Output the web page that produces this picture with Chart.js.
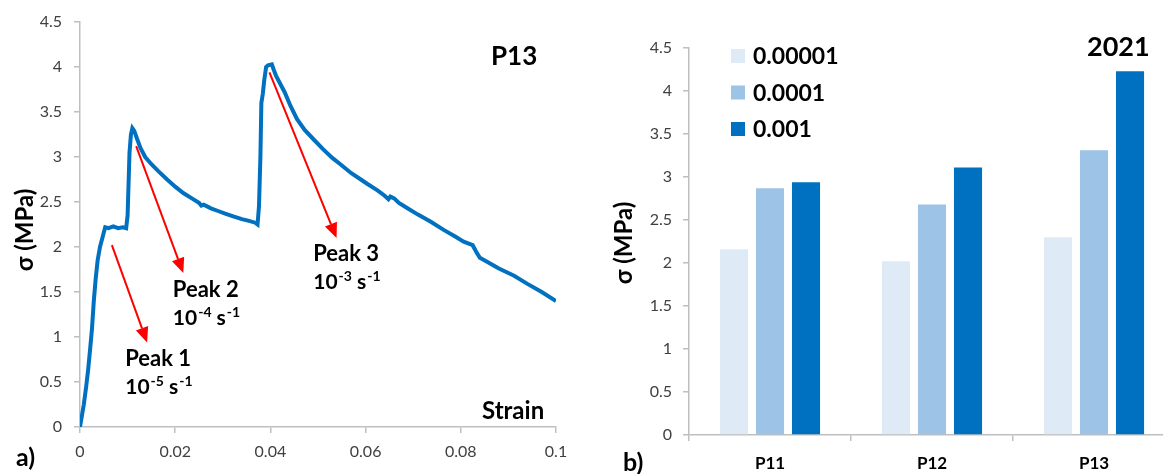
<!DOCTYPE html>
<html>
<head>
<meta charset="utf-8">
<script src="https://cdn.jsdelivr.net/npm/chart.js@4.4.1/dist/chart.umd.min.js"></script>
<style>
  html, body { margin: 0; padding: 0; background: #fff; overflow: hidden; }
  #wrap { position: relative; width: 1163px; height: 474px; overflow: hidden; }
  #leftChart { position: absolute; left: 0; top: 0; }
  #rightChart { position: absolute; left: 580px; top: 0; }
</style>
</head>
<body>
<div id="wrap">
  <canvas id="leftChart" width="580" height="474"></canvas>
  <canvas id="rightChart" width="600" height="474"></canvas>
</div>
<script>
// a) stress-strain curve of P13
var strain = [0, 0.0008, 0.0013, 0.0017, 0.0021, 0.0025, 0.0029, 0.0033, 0.0037, 0.0042, 0.0047, 0.0050, 0.0053,
  0.0060, 0.0070, 0.0080, 0.0090, 0.0097, 0.0100, 0.0102, 0.0104, 0.0107, 0.0110, 0.0114, 0.0120, 0.0127,
  0.0137, 0.0150, 0.0165, 0.0183, 0.0200, 0.0217, 0.0235, 0.0250, 0.0255, 0.0260, 0.0275, 0.0290, 0.0305,
  0.0322, 0.0340, 0.0355, 0.0368, 0.0373, 0.0376, 0.0379, 0.0381, 0.0384, 0.0387, 0.0391, 0.0395, 0.0403,
  0.0407, 0.0412, 0.0420, 0.0430, 0.0442, 0.0456, 0.0472, 0.0490, 0.0510, 0.0530, 0.0547, 0.0570, 0.0590,
  0.0604, 0.0625, 0.0640, 0.0648, 0.0652, 0.0660, 0.0670, 0.0688, 0.0710, 0.0737, 0.0764, 0.0790, 0.0806,
  0.0825, 0.0832, 0.0840, 0.0857, 0.0880, 0.0912, 0.0940, 0.0970, 0.1000];
var stress = [0, 0.25, 0.45, 0.63, 0.85, 1.08, 1.40, 1.65, 1.85, 2.00, 2.10, 2.16, 2.22,
  2.21, 2.23, 2.21, 2.22, 2.21, 2.35, 2.70, 3.05, 3.25, 3.32, 3.29, 3.20, 3.10,
  3.00, 2.92, 2.84, 2.75, 2.67, 2.60, 2.54, 2.49, 2.46, 2.47, 2.43, 2.40, 2.37,
  2.34, 2.31, 2.29, 2.27, 2.25, 2.45, 3.00, 3.60, 3.70, 3.85, 4.00, 4.02, 4.03,
  3.97, 3.90, 3.82, 3.72, 3.57, 3.42, 3.30, 3.20, 3.09, 2.99, 2.92, 2.82, 2.75,
  2.70, 2.63, 2.57, 2.53, 2.56, 2.54, 2.49, 2.43, 2.36, 2.28, 2.19, 2.11, 2.06,
  2.02, 1.95, 1.88, 1.83, 1.76, 1.68, 1.59, 1.50, 1.40];
var strainTicks = [0, 0.02, 0.04, 0.06, 0.08, 0.1];
var strainTickLabels = ['0', '0.02', '0.04', '0.06', '0.08', '0.1'];
var stressTicks = [0, 0.5, 1, 1.5, 2, 2.5, 3, 3.5, 4, 4.5];
var stressTickLabels = ['0', '0.5', '1', '1.5', '2', '2.5', '3', '3.5', '4', '4.5'];

var peakNames = ['Peak 1', 'Peak 2', 'Peak 3'];
var peakExps = ['-5', '-4', '-3'];

// b) peak stress per specimen and strain rate
var specimens = ['P11', 'P12', 'P13'];
var rateLabels = ['0.00001', '0.0001', '0.001'];
var rate1 = [2.16, 2.02, 2.30];
var rate2 = [2.87, 2.68, 3.31];
var rate3 = [2.94, 3.11, 4.23];

// annotation placement (data units of the left chart)
var arrows = [
  { from: [0.0067, 2.02], to: [0.0141, 0.94] },
  { from: [0.0118, 3.12], to: [0.0217, 1.71] },
  { from: [0.0398, 3.94], to: [0.0539, 2.10] }
];
var peakTextAt = [[0.0095, 0.68], [0.0195, 1.44], [0.0490, 1.84]];

Chart.defaults.font.family = 'Lato, "Open Sans", sans-serif';
Chart.defaults.color = '#404040';

var FONT = 'Lato, "Open Sans", sans-serif';
var AXIS = '#bfbfbf';

function drawArrow(ctx, x1, y1, x2, y2) {
  var ang = Math.atan2(y2 - y1, x2 - x1);
  var hl = 15, hw = 6.5;
  ctx.save();
  ctx.strokeStyle = '#ff0000';
  ctx.fillStyle = '#ff0000';
  ctx.lineWidth = 2;
  ctx.beginPath();
  ctx.moveTo(x1, y1);
  ctx.lineTo(x2 - Math.cos(ang) * hl, y2 - Math.sin(ang) * hl);
  ctx.stroke();
  ctx.beginPath();
  ctx.moveTo(x2, y2);
  ctx.lineTo(x2 - Math.cos(ang) * hl - Math.sin(ang) * hw, y2 - Math.sin(ang) * hl + Math.cos(ang) * hw);
  ctx.lineTo(x2 - Math.cos(ang) * hl + Math.sin(ang) * hw, y2 - Math.sin(ang) * hl - Math.cos(ang) * hw);
  ctx.closePath();
  ctx.fill();
  ctx.restore();
}

function drawRate(ctx, x, y, exp) {
  var big = 'bold 21px ' + FONT, small = 'bold 14px ' + FONT;
  ctx.font = big;
  ctx.fillText('10', x, y);
  x += ctx.measureText('10').width + 1;
  ctx.font = small;
  ctx.fillText(exp, x, y - 8);
  x += ctx.measureText(exp).width;
  ctx.font = big;
  ctx.fillText(' s', x, y);
  x += ctx.measureText(' s').width + 1;
  ctx.font = small;
  ctx.fillText('-1', x, y - 8);
}

function rotatedText(ctx, text, cx, cy, font) {
  ctx.save();
  ctx.translate(cx, cy);
  ctx.rotate(-Math.PI / 2);
  ctx.font = font;
  ctx.textAlign = 'center';
  ctx.textBaseline = 'middle';
  ctx.fillText(text, 0, 0);
  ctx.restore();
}

var leftDecor = {
  id: 'leftDecor',
  afterDraw: function (chart) {
    var ctx = chart.ctx, xs = chart.scales.x, ys = chart.scales.y;
    arrows.forEach(function (a) {
      drawArrow(ctx, xs.getPixelForValue(a.from[0]), ys.getPixelForValue(a.from[1]),
        xs.getPixelForValue(a.to[0]), ys.getPixelForValue(a.to[1]));
    });
    ctx.save();
    ctx.fillStyle = '#000';
    ctx.textBaseline = 'alphabetic';
    peakTextAt.forEach(function (p, i) {
      var px = xs.getPixelForValue(p[0]), py = ys.getPixelForValue(p[1]);
      ctx.font = 'bold 22px ' + FONT;
      ctx.fillText(peakNames[i], px, py);
      drawRate(ctx, px, py + 28, peakExps[i]);
    });
    ctx.font = 'bold 26px ' + FONT;
    ctx.fillText('P13', 491, 65);
    ctx.font = 'bold 24px ' + FONT;
    ctx.fillText('Strain', 482, 419);
    ctx.font = 'bold 25px ' + FONT;
    ctx.fillText('a)', 16, 466);
    rotatedText(ctx, 'σ (MPa)', 25, 230, 'bold 24px ' + FONT);
    ctx.restore();
  }
};

new Chart(document.getElementById('leftChart'), {
  type: 'line',
  data: {
    datasets: [{
      data: strain.map(function (s, i) { return { x: s, y: stress[i] }; }),
      borderColor: '#0070C0',
      borderWidth: 4,
      pointRadius: 0,
      tension: 0,
      fill: false
    }]
  },
  options: {
    responsive: false,
    animation: false,
    layout: { padding: { top: 22, right: 24, left: 0, bottom: 0 } },
    plugins: { legend: { display: false }, tooltip: { enabled: false } },
    scales: {
      x: {
        type: 'linear', min: 0, max: 0.1,
        afterBuildTicks: function (s) { s.ticks = strainTicks.map(function (v) { return { value: v }; }); },
        afterFit: function (s) { s.height = 47; },
        ticks: {
          callback: function (v, i) { return strainTickLabels[i]; },
          font: { size: 16 }, color: '#404040', padding: 9, maxRotation: 0, autoSkip: false
        },
        grid: { drawOnChartArea: false, tickLength: 6, color: AXIS, lineWidth: 1.5 },
        border: { color: AXIS, width: 1.5 }
      },
      y: {
        min: 0, max: 4.5,
        afterBuildTicks: function (s) { s.ticks = stressTicks.map(function (v) { return { value: v }; }); },
        afterFit: function (s) { s.width = 80; },
        ticks: {
          callback: function (v, i) { return stressTickLabels[i]; },
          font: { size: 16 }, color: '#404040', padding: 12, autoSkip: false
        },
        grid: { drawOnChartArea: false, tickLength: 6, color: AXIS, lineWidth: 1.5 },
        border: { color: AXIS, width: 1.5 }
      }
    }
  },
  plugins: [leftDecor]
});

var rightDecor = {
  id: 'rightDecor',
  afterDraw: function (chart) {
    var ctx = chart.ctx;
    ctx.save();
    ctx.textBaseline = 'middle';
    chart.data.datasets.forEach(function (ds, i) {
      var cy = 56 + i * 36.5;
      ctx.fillStyle = ds.backgroundColor;
      ctx.fillRect(151, cy - 7, 14, 14);
      ctx.fillStyle = '#000';
      ctx.font = 'bold 23px ' + FONT;
      ctx.fillText(ds.label, 173, cy + 1);
    });
    ctx.textBaseline = 'alphabetic';
    ctx.font = 'bold 27px ' + FONT;
    ctx.fillText('2021', 507, 56);
    ctx.font = 'bold 25px ' + FONT;
    ctx.fillText('b)', 43, 471);
    rotatedText(ctx, 'σ (MPa)', 44, 243, 'bold 24px ' + FONT);
    ctx.restore();
  }
};

var barColors = ['#DEEBF7', '#9DC3E6', '#0070C0'];
new Chart(document.getElementById('rightChart'), {
  type: 'bar',
  data: {
    labels: specimens,
    datasets: [rate1, rate2, rate3].map(function (vals, i) {
      return {
        label: rateLabels[i],
        data: vals,
        backgroundColor: barColors[i],
        categoryPercentage: 0.667,
        barPercentage: 0.78
      };
    })
  },
  options: {
    responsive: false,
    animation: false,
    layout: { padding: { top: 48, right: 5, left: 0, bottom: 0 } },
    plugins: { legend: { display: false }, tooltip: { enabled: false } },
    scales: {
      x: {
        afterFit: function (s) { s.height = 39; },
        ticks: { font: { size: 17, weight: 'bold' }, color: '#000', padding: 12 },
        grid: { drawOnChartArea: false, tickLength: 6, color: AXIS, lineWidth: 1.5, offset: true },
        border: { color: AXIS, width: 1.5 }
      },
      y: {
        min: 0, max: 4.5,
        afterBuildTicks: function (s) { s.ticks = stressTicks.map(function (v) { return { value: v }; }); },
        afterFit: function (s) { s.width = 109; },
        ticks: {
          callback: function (v, i) { return stressTickLabels[i]; },
          font: { size: 16 }, color: '#404040', padding: 11, autoSkip: false
        },
        grid: { drawOnChartArea: false, tickLength: 6, color: AXIS, lineWidth: 1.5 },
        border: { color: AXIS, width: 1.5 }
      }
    }
  },
  plugins: [rightDecor]
});
</script>
</body>
</html>
